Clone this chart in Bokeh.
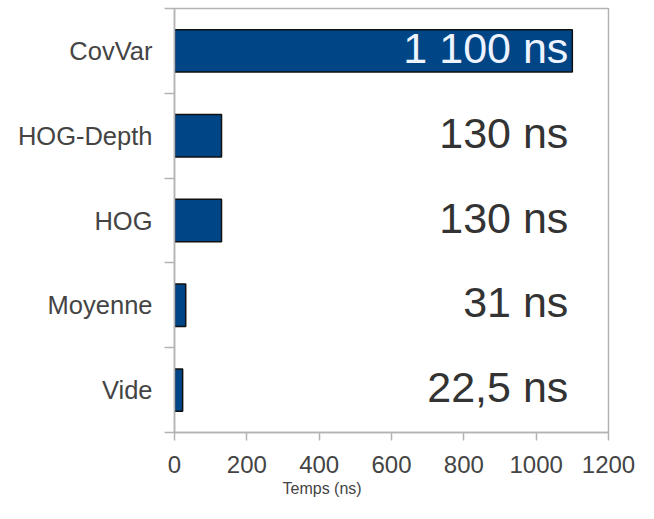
from bokeh.plotting import figure
from bokeh.models import ColumnDataSource, Range1d, FixedTicker, Title
from bokeh.core.properties import value
from bokeh.embed import file_html
from bokeh.resources import INLINE

categories = ["CovVar", "HOG-Depth", "HOG", "Moyenne", "Vide"]
times_ns = [1100, 130, 130, 31, 22.5]
value_labels = ["1 100 ns", "130 ns", "130 ns", "31 ns", "22,5 ns"]
label_colors = ["#eef4ff", "#333333", "#333333", "#333333", "#333333"]
x_ticks = [0, 200, 400, 600, 800, 1000, 1200]

n = len(categories)
ypos = [i + 0.5 for i in range(n)]
label_x = [max(times_ns)] * n

src = ColumnDataSource(dict(cat=categories, t=times_ns, y=ypos, lab=value_labels,
                            col=label_colors, lx=label_x))

p = figure(width=638, height=503, output_backend="svg", toolbar_location=None,
           x_range=Range1d(0, 1200), y_range=Range1d(n, 0),
           min_border_left=174, min_border_right=30, min_border_top=8, min_border_bottom=71)

p.hbar(y="y", right="t", left=0, height=0.5, source=src,
       fill_color="#004586", line_color="#111111", line_width=1.5)

p.text(x="lx", y="y", text="lab", source=src, text_color="col",
       text_align="right", text_baseline="middle", x_offset=-4, y_offset=-3,
       text_font=value("Liberation Sans"), text_font_size="43px")

p.xgrid.visible = False
p.ygrid.visible = False
p.outline_line_color = "#b3b3b3"
p.outline_line_width = 1.5
p.background_fill_color = "white"
p.border_fill_color = "white"

xa = p.xaxis[0]
xa.ticker = FixedTicker(ticks=x_ticks)
xa.axis_line_color = "#b3b3b3"
xa.axis_line_width = 1.5
xa.major_tick_line_color = "#b3b3b3"
xa.major_tick_line_width = 1.5
xa.major_tick_out = 8
xa.major_tick_in = 0
xa.minor_tick_line_color = None
xa.major_label_text_font = "Liberation Sans"
xa.major_label_text_font_size = "24px"
xa.major_label_text_color = "#444444"
xa.major_label_standoff = 15

ya = p.yaxis[0]
ya.ticker = FixedTicker(ticks=ypos, minor_ticks=list(range(n + 1)))
ya.major_label_overrides = {y: c for y, c in zip(ypos, categories)}
ya.axis_line_color = "#b3b3b3"
ya.axis_line_width = 1.5
ya.major_tick_line_color = None
ya.major_tick_out = 0
ya.major_tick_in = 0
ya.minor_tick_line_color = "#b3b3b3"
ya.minor_tick_line_width = 1.5
ya.minor_tick_out = 10
ya.minor_tick_in = 0
ya.major_label_text_font = "Liberation Sans"
ya.major_label_text_font_size = "25.5px"
ya.major_label_text_color = "#444444"
ya.major_label_standoff = 12

p.add_layout(Title(text="Temps (ns)", align="left", offset=108, standoff=4,
                   text_font="Liberation Sans", text_font_size="16px",
                   text_font_style="normal", text_color="#444444"), "below")

open("out.html", "w").write(file_html(p, INLINE))
